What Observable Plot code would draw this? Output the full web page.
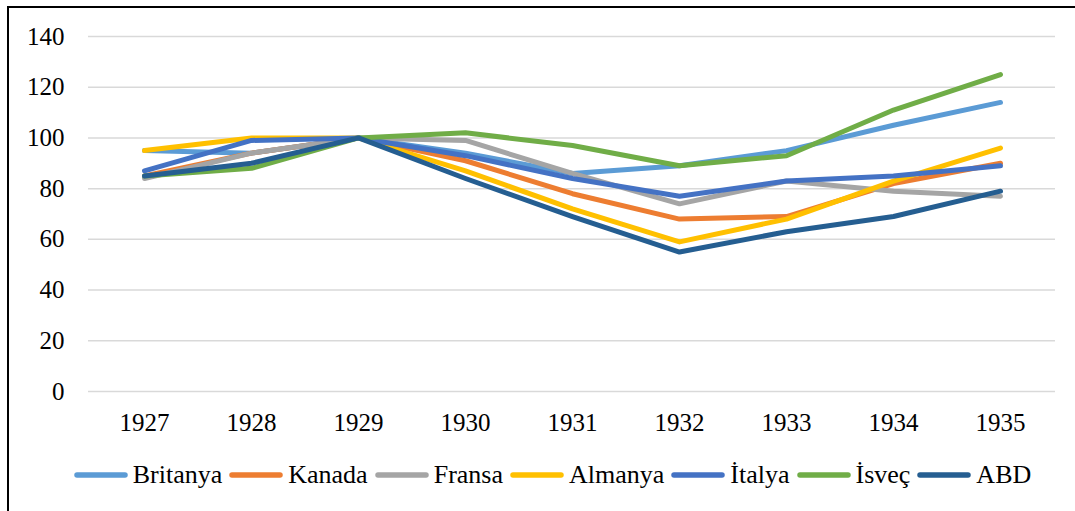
<!DOCTYPE html>
<html>
<head>
<meta charset="utf-8">
<script src="https://cdn.jsdelivr.net/npm/d3@7"></script>
<script src="https://cdn.jsdelivr.net/npm/@observablehq/plot@0.6"></script>
<style>
  html, body { margin: 0; padding: 0; background: #fff; overflow: hidden; }
  #wrap { position: relative; width: 1075px; height: 511px; overflow: hidden; font-family: "Liberation Serif", "Times New Roman", serif; }
  #frame { position: absolute; left: 7px; top: 6px; width: 1200px; height: 700px; border-left: 2.5px solid #000; border-top: 2.5px solid #000; box-sizing: border-box; }
  #chart { position: absolute; left: 0; top: 0; }
  #legend { position: absolute; left: 0; top: 460px; width: 1098px; display: flex; justify-content: center; align-items: center; font-size: 26px; color: #000; white-space: nowrap; }
  .item { display: flex; align-items: center; }
  .item svg { display: block; }
</style>
</head>
<body>
<div id="wrap">
  <div id="frame"></div>
  <div id="chart"></div>
  <div id="legend"></div>
</div>
<script>
const years = [1927, 1928, 1929, 1930, 1931, 1932, 1933, 1934, 1935];
const seriesNames = ["Britanya", "Kanada", "Fransa", "Almanya", "İtalya", "İsveç", "ABD"];
const colors = ["#5B9BD5", "#ED7D31", "#A5A5A5", "#FFC000", "#4472C4", "#70AD47", "#255E91"];
const britanya = [95, 94, 100, 94, 86, 89, 95, 105, 114];
const kanada   = [85, 94, 100, 91, 78, 68, 69, 82, 90];
const fransa   = [84, 94, 100, 99, 86, 74, 83, 79, 77];
const almanya  = [95, 100, 100, 87, 72, 59, 68, 83, 96];
const italya   = [87, 99, 100, 93, 84, 77, 83, 85, 89];
const isvec    = [85, 88, 100, 102, 97, 89, 93, 111, 125];
const abd      = [85, 90, 100, 84, 69, 55, 63, 69, 79];
const yTicks = [0, 20, 40, 60, 80, 100, 120, 140];

const seriesValues = [britanya, kanada, fransa, almanya, italya, isvec, abd];
const data = [];
seriesNames.forEach((name, i) => {
  years.forEach((yr, j) => data.push({series: name, year: yr, value: seriesValues[i][j]}));
});

const chart = Plot.plot({
  width: 1075,
  height: 440,
  marginLeft: 88,
  marginRight: 20,
  marginTop: 36,
  marginBottom: 49,
  style: { fontFamily: "'Liberation Serif', 'Times New Roman', serif", fontSize: "25px", color: "#000", background: "transparent" },
  x: { type: "point", domain: years, padding: 0.5, label: null },
  y: { domain: [0, 140], label: null },
  color: { domain: seriesNames, range: colors },
  marks: [
    Plot.gridY(yTicks, { stroke: "#d9d9d9", strokeOpacity: 1, strokeWidth: 1.5 }),
    Plot.axisY(yTicks, { tickSize: 0, tickPadding: 24, fontSize: 25, label: null, tickFormat: d => String(d) }),
    Plot.axisX(years, { tickSize: 0, tickPadding: 22, fontSize: 25, label: null, tickFormat: d => String(d) }),
    Plot.line(data, { x: "year", y: "value", z: "series", stroke: "series", strokeWidth: 5, strokeLinecap: "round", strokeLinejoin: "round" })
  ]
});
document.getElementById("chart").appendChild(chart);

const legend = document.getElementById("legend");
seriesNames.forEach((name, i) => {
  const item = document.createElement("div");
  item.className = "item";
  item.innerHTML = `<svg width="66" height="10"><line x1="10" y1="5" x2="58" y2="5" stroke="${colors[i]}" stroke-width="5.5" stroke-linecap="round"/></svg><span>${name}</span>`;
  legend.appendChild(item);
});
</script>
</body>
</html>
